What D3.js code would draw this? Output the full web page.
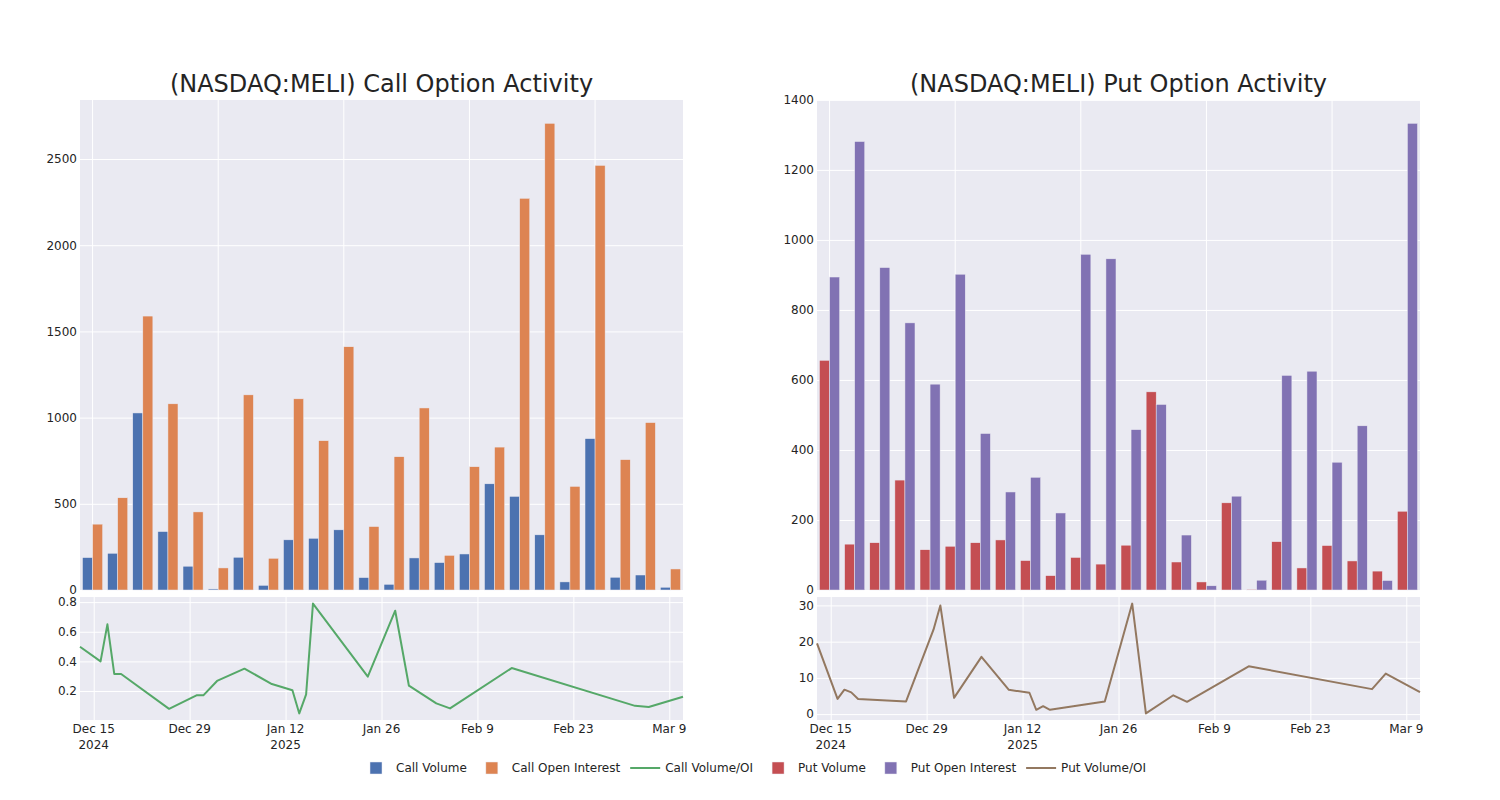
<!DOCTYPE html>
<html>
<head>
<meta charset="utf-8">
<script src="https://cdn.jsdelivr.net/npm/d3@7"></script>
<style>
  body { margin: 0; background: #fff; }
  svg { display: block; font-family: "DejaVu Sans", Verdana, sans-serif; }
</style>
</head>
<body>
<svg id="chart" width="1500" height="800"></svg>
<script>
// ---------------- DATA ----------------
const dates = ["2024-12-13","2024-12-16","2024-12-17","2024-12-18","2024-12-19","2024-12-26",
  "2024-12-30","2024-12-31","2025-01-02","2025-01-06","2025-01-10","2025-01-13","2025-01-14",
  "2025-01-15","2025-01-16","2025-01-24","2025-01-28","2025-01-30","2025-02-03","2025-02-05",
  "2025-02-14","2025-03-04","2025-03-06","2025-03-11"];
const callVolume = [188, 213, 1027, 339, 138, 6, 190, 27, 291, 300, 349, 72, 33, 186, 159, 209, 616, 543, 320, 47, 878, 74, 87, 16];
const callOI = [382, 535, 1589, 1080, 453, 128, 1132, 184, 1109, 866, 1411, 368, 773, 1056, 201, 715, 829, 2272, 2707, 601, 2463, 756, 971, 122];
const callRatio = [0.499, 0.40, 0.65, 0.315, 0.315, 0.08, 0.171, 0.171, 0.268, 0.351, 0.247, 0.205, 0.049, 0.178, 0.79, 0.297, 0.742, 0.236, 0.117, 0.083, 0.355, 0.10, 0.092, 0.161];
const putVolume = [656, 131, 135, 314, 115, 125, 135, 143, 84, 41, 93, 74, 128, 566, 80, 23, 249, 2, 138, 63, 127, 83, 54, 225];
const putOI = [894, 1281, 921, 763, 588, 902, 447, 280, 322, 220, 959, 946, 458, 530, 157, 12, 268, 28, 613, 625, 365, 469, 27, 1333];
const putRatio = [19.5, 4.2, 6.75, 6.0, 4.2, 3.5, 23.3, 30.0, 4.5, 15.8, 6.7, 5.9, 1.2, 2.2, 1.2, 3.5, 30.5, 0.2, 5.2, 3.4, 13.2, 6.9, 11.2, 6.1];

const callBarTicks = [0, 500, 1000, 1500, 2000, 2500];
const putBarTicks = [0, 200, 400, 600, 800, 1000, 1200, 1400];
const callRatioTicks = [0.2, 0.4, 0.6, 0.8];
const putRatioTicks = [0, 10, 20, 30];
const dateTicks = ["2024-12-15","2024-12-29","2025-01-12","2025-01-26","2025-02-09","2025-02-23","2025-03-09"];

const titles = ["(NASDAQ:MELI) Call Option Activity", "(NASDAQ:MELI) Put Option Activity"];
const legendLabels = ["Call Volume", "Call Open Interest", "Call Volume/OI", "Put Volume", "Put Open Interest", "Put Volume/OI"];

// ---------------- STYLE ----------------
const C = {
  callVol: "rgb(76,114,176)", callOI: "rgb(221,132,82)", callRatio: "rgb(85,168,104)",
  putVol: "rgb(196,78,82)", putOI: "rgb(129,114,179)", putRatio: "rgb(147,120,96)",
  bg: "rgb(234,234,242)", text: "rgb(36,36,36)"
};
const svg = d3.select("#chart");
const parse = d3.utcParse("%Y-%m-%d");
const dateObjs = dates.map(parse);

const barTop = 100, barBottom = 590, lineTop = 597, lineBottom = 720;

function panel(x0, x1, title, vol, oi, ratio, cVol, cOI, cRatio, barTicks, ratioTicks) {
  const g = svg.append("g");
  const W = x1 - x0;

  // title
  g.append("text").attr("x", (x0 + x1) / 2).attr("y", 92)
    .attr("text-anchor", "middle").attr("font-size", 24).attr("fill", C.text).text(title);

  // ---- bar panel ----
  g.append("rect").attr("x", x0).attr("y", barTop).attr("width", W).attr("height", barBottom - barTop).attr("fill", C.bg);
  const xb = d3.scaleBand().domain(dates).range([x0, x1]).paddingInner(0.2).paddingOuter(0.1);
  const xs = d3.scaleBand().domain(["v", "o"]).range([0, xb.bandwidth()]);
  const yb = d3.scaleLinear().domain([0, d3.max(vol.concat(oi)) * 1.05]).range([barBottom, barTop]);

  // gridlines
  g.append("g").attr("transform", `translate(${x0},0)`)
    .call(d3.axisLeft(yb).tickValues(barTicks).tickSize(-W).tickFormat(""))
    .call(s => s.select(".domain").remove())
    .call(s => s.selectAll("line").attr("stroke", "#fff").attr("stroke-width", 1));
  const catGrid = dates.filter((d, i) => i % 5 === 0);
  g.append("g").attr("transform", `translate(0,${barBottom})`)
    .call(d3.axisBottom(xb).tickValues(catGrid).tickSize(-(barBottom - barTop)).tickFormat(""))
    .call(s => s.select(".domain").remove())
    .call(s => s.selectAll("line").attr("stroke", "#fff").attr("stroke-width", 1));

  // bars
  const rows = dates.map((d, i) => ({ d, v: vol[i], o: oi[i] }));
  const grp = g.append("g").selectAll("g").data(rows).join("g")
    .attr("transform", r => `translate(${xb(r.d)},0)`);
  grp.append("rect").attr("x", xs("v")).attr("width", xs.bandwidth())
    .attr("y", r => yb(r.v)).attr("height", r => barBottom - yb(r.v))
    .attr("fill", cVol).attr("stroke", C.bg).attr("stroke-width", 0.5);
  grp.append("rect").attr("x", xs("o")).attr("width", xs.bandwidth())
    .attr("y", r => yb(r.o)).attr("height", r => barBottom - yb(r.o))
    .attr("fill", cOI).attr("stroke", C.bg).attr("stroke-width", 0.5);

  // y tick labels
  g.append("g").attr("transform", `translate(${x0},0)`)
    .call(d3.axisLeft(yb).tickValues(barTicks).tickSize(0).tickPadding(3).tickFormat(d3.format("d")))
    .call(s => s.select(".domain").remove())
    .call(s => s.selectAll("text").attr("font-size", 12).attr("fill", C.text).attr("font-family", "DejaVu Sans"));

  // ---- line panel ----
  g.append("rect").attr("x", x0).attr("y", lineTop).attr("width", W).attr("height", lineBottom - lineTop).attr("fill", C.bg);
  const xt = d3.scaleUtc().domain(d3.extent(dateObjs)).range([x0, x1]);
  const [mn, mx] = d3.extent(ratio);
  const pad = (mx - mn) * 0.06;
  const yl = d3.scaleLinear().domain([mn - pad, mx + pad]).range([lineBottom, lineTop]);
  const tickDates = dateTicks.map(parse);

  g.append("g").attr("transform", `translate(${x0},0)`)
    .call(d3.axisLeft(yl).tickValues(ratioTicks).tickSize(-W).tickFormat(""))
    .call(s => s.select(".domain").remove())
    .call(s => s.selectAll("line").attr("stroke", "#fff").attr("stroke-width", 1));
  g.append("g").attr("transform", `translate(0,${lineBottom})`)
    .call(d3.axisBottom(xt).tickValues(tickDates).tickSize(-(lineBottom - lineTop)).tickFormat(""))
    .call(s => s.select(".domain").remove())
    .call(s => s.selectAll("line").attr("stroke", "#fff").attr("stroke-width", 1));

  const line = d3.line().x((d, i) => xt(dateObjs[i])).y(d => yl(d));
  g.append("path").datum(ratio).attr("d", line).attr("fill", "none")
    .attr("stroke", cRatio).attr("stroke-width", 2).attr("stroke-linejoin", "round");

  g.append("g").attr("transform", `translate(${x0},0)`)
    .call(d3.axisLeft(yl).tickValues(ratioTicks).tickSize(0).tickPadding(3).tickFormat(d => d3.format("")(d)))
    .call(s => s.select(".domain").remove())
    .call(s => s.selectAll("text").attr("font-size", 12).attr("fill", C.text).attr("font-family", "DejaVu Sans"));

  // x tick labels (two lines)
  const fmt = d3.utcFormat("%b %-d");
  const xl = g.append("g").selectAll("text").data(tickDates).join("text")
    .attr("x", d => xt(d)).attr("y", lineBottom + 13)
    .attr("text-anchor", "middle").attr("font-size", 12).attr("fill", C.text);
  xl.append("tspan").attr("x", d => xt(d)).text(d => fmt(d));
  xl.append("tspan").attr("x", d => xt(d)).attr("dy", 16)
    .text((d, i) => (i === 0 || d.getUTCFullYear() !== tickDates[i - 1].getUTCFullYear()) ? d.getUTCFullYear() : "");
}

panel(80, 683, titles[0], callVolume, callOI, callRatio, C.callVol, C.callOI, C.callRatio, callBarTicks, callRatioTicks);
panel(817, 1420, titles[1], putVolume, putOI, putRatio, C.putVol, C.putOI, C.putRatio, putBarTicks, putRatioTicks);

// ---------------- LEGEND ----------------
const legendColors = [C.callVol, C.callOI, C.callRatio, C.putVol, C.putOI, C.putRatio];
const legendKinds = ["bar", "bar", "line", "bar", "bar", "line"];
const lg = svg.append("g");
const items = lg.selectAll("g").data(legendLabels).join("g");
items.append("text").attr("x", 40).attr("y", 772).attr("font-size", 12).attr("fill", C.text).text(d => d);
items.each(function (d, i) {
  const s = d3.select(this);
  if (legendKinds[i] === "bar") {
    s.append("rect").attr("x", 14).attr("y", 762).attr("width", 12).attr("height", 12)
      .attr("fill", legendColors[i]).attr("stroke", C.bg).attr("stroke-width", 0.5);
  } else {
    s.append("line").attr("x1", 5).attr("x2", 35).attr("y1", 768).attr("y2", 768)
      .attr("stroke", legendColors[i]).attr("stroke-width", 2);
  }
});
let cursor = 0;
const offsets = [];
items.each(function () {
  const w = d3.select(this).select("text").node().getComputedTextLength();
  offsets.push(cursor);
  cursor += 40 + w + 5;
});
const start = 356;
items.attr("transform", (d, i) => `translate(${start + offsets[i]},0)`);
</script>
</body>
</html>
